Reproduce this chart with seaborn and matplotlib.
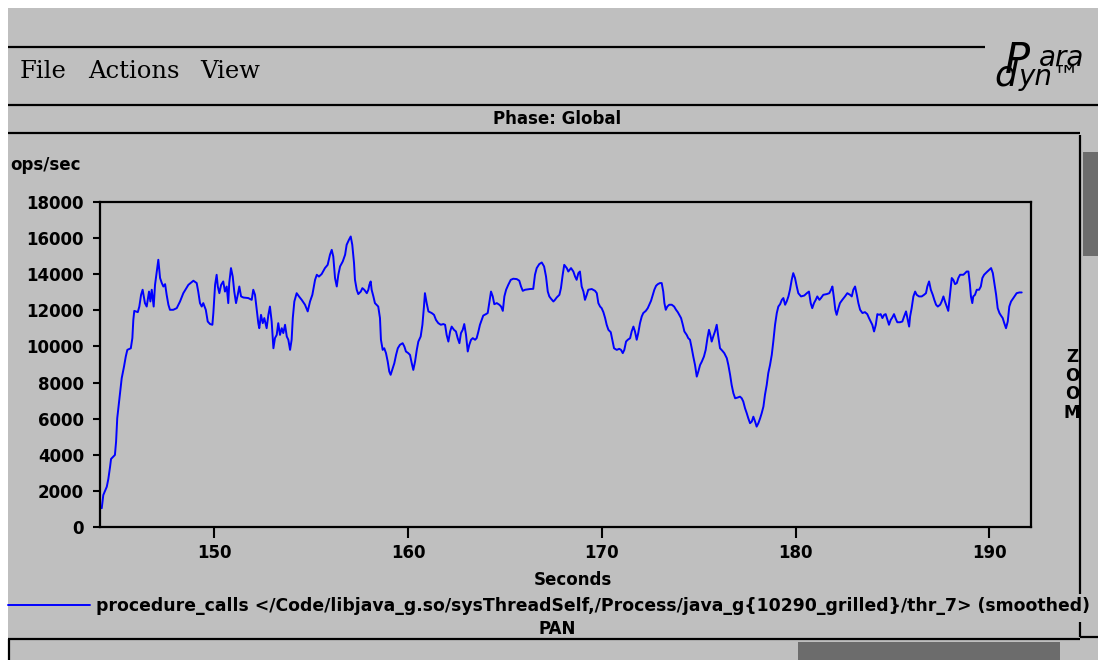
import matplotlib
matplotlib.use("Agg")
import matplotlib.pyplot as plt
from matplotlib.lines import Line2D
from matplotlib.patches import Rectangle
import seaborn as sns
import pandas as pd

# ---------------- data ----------------
time_s = [
    144.19, 144.27, 144.45, 144.53, 144.62, 144.67, 144.87, 144.93, 144.99, 145.10,
    145.22, 145.34, 145.43, 145.51, 145.69, 145.77, 145.82, 145.87, 146.05, 146.13,
    146.22, 146.30, 146.42, 146.51, 146.63, 146.70, 146.77, 146.87, 146.94, 147.03,
    147.11, 147.20, 147.29, 147.37, 147.46, 147.54, 147.63, 147.71, 147.88, 148.06,
    148.23, 148.40, 148.66, 148.92, 149.09, 149.17, 149.26, 149.35, 149.43, 149.56,
    149.66, 149.78, 149.90, 149.95, 150.04, 150.12, 150.18, 150.26, 150.35, 150.46,
    150.55, 150.64, 150.72, 150.77, 150.86, 150.95, 151.03, 151.12, 151.21, 151.29,
    151.38, 151.50, 151.75, 151.93, 152.01, 152.10, 152.19, 152.27, 152.32, 152.41,
    152.50, 152.58, 152.70, 152.79, 152.87, 152.96, 153.05, 153.13, 153.22, 153.30,
    153.39, 153.48, 153.56, 153.65, 153.74, 153.82, 153.91, 153.99, 154.05, 154.13,
    154.25, 154.37, 154.51, 154.68, 154.82, 154.94, 155.06, 155.20, 155.29, 155.40,
    155.54, 155.71, 155.85, 155.97, 156.06, 156.14, 156.23, 156.32, 156.40, 156.49,
    156.63, 156.75, 156.83, 156.95, 157.04, 157.12, 157.21, 157.26, 157.35, 157.43,
    157.56, 157.64, 157.74, 157.87, 157.95, 158.00, 158.07, 158.12, 158.21, 158.29,
    158.46, 158.55, 158.60, 158.69, 158.77, 158.86, 158.95, 159.03, 159.10, 159.21,
    159.29, 159.38, 159.47, 159.58, 159.72, 159.81, 159.89, 160.01, 160.10, 160.19,
    160.27, 160.36, 160.45, 160.53, 160.65, 160.74, 160.82, 160.87, 160.96, 161.05,
    161.22, 161.34, 161.44, 161.56, 161.69, 161.82, 161.91, 161.99, 162.08, 162.17,
    162.25, 162.37, 162.47, 162.56, 162.65, 162.73, 162.82, 162.90, 162.99, 163.08,
    163.16, 163.25, 163.34, 163.46, 163.54, 163.63, 163.71, 163.80, 163.88, 164.02,
    164.11, 164.19, 164.28, 164.37, 164.45, 164.58, 164.71, 164.80, 164.89, 164.97,
    165.06, 165.17, 165.30, 165.43, 165.61, 165.74, 165.83, 165.92, 166.04, 166.29,
    166.46, 166.55, 166.64, 166.77, 166.90, 167.02, 167.12, 167.21, 167.29, 167.38,
    167.50, 167.58, 167.67, 167.81, 167.89, 167.98, 168.06, 168.19, 168.27, 168.41,
    168.53, 168.62, 168.70, 168.79, 168.87, 168.96, 169.05, 169.13, 169.22, 169.30,
    169.48, 169.65, 169.74, 169.82, 169.91, 169.99, 170.08, 170.17, 170.25, 170.34,
    170.46, 170.54, 170.63, 170.77, 170.90, 170.99, 171.08, 171.16, 171.25, 171.34,
    171.46, 171.54, 171.63, 171.71, 171.80, 171.88, 171.97, 172.06, 172.14, 172.27,
    172.37, 172.45, 172.54, 172.63, 172.71, 172.80, 172.89, 173.00, 173.09, 173.17,
    173.23, 173.30, 173.38, 173.48, 173.61, 173.73, 173.83, 173.92, 174.00, 174.09,
    174.18, 174.26, 174.38, 174.46, 174.55, 174.64, 174.72, 174.81, 174.90, 174.98,
    175.07, 175.16, 175.27, 175.36, 175.45, 175.53, 175.60, 175.67, 175.75, 175.84,
    175.93, 176.01, 176.10, 176.22, 176.32, 176.45, 176.53, 176.62, 176.70, 176.79,
    176.88, 177.01, 177.13, 177.22, 177.30, 177.39, 177.48, 177.56, 177.65, 177.74,
    177.82, 177.91, 177.99, 178.08, 178.17, 178.25, 178.34, 178.42, 178.51, 178.59,
    178.68, 178.77, 178.85, 178.94, 179.03, 179.11, 179.20, 179.29, 179.37, 179.46,
    179.54, 179.63, 179.71, 179.80, 179.88, 179.97, 180.06, 180.14, 180.28, 180.45,
    180.58, 180.69, 180.78, 180.86, 180.95, 181.04, 181.12, 181.23, 181.31, 181.43,
    181.61, 181.74, 181.83, 181.90, 181.98, 182.05, 182.12, 182.21, 182.29, 182.41,
    182.55, 182.67, 182.81, 182.90, 182.98, 183.07, 183.16, 183.24, 183.33, 183.45,
    183.58, 183.70, 183.79, 183.88, 183.96, 184.05, 184.14, 184.22, 184.31, 184.39,
    184.48, 184.57, 184.65, 184.74, 184.82, 184.91, 184.99, 185.08, 185.17, 185.25,
    185.39, 185.51, 185.60, 185.70, 185.77, 185.86, 185.91, 185.99, 186.08, 186.17,
    186.25, 186.37, 186.51, 186.63, 186.73, 186.80, 186.89, 186.98, 187.08, 187.16,
    187.25, 187.34, 187.46, 187.54, 187.63, 187.71, 187.80, 187.88, 187.97, 188.06,
    188.14, 188.23, 188.32, 188.40, 188.49, 188.66, 188.75, 188.83, 188.92, 189.00,
    189.05, 189.12, 189.17, 189.26, 189.35, 189.47, 189.56, 189.64, 189.73, 189.87,
    190.00, 190.09, 190.18, 190.26, 190.35, 190.43, 190.52, 190.60, 190.69, 190.77,
    190.86, 190.95, 191.03, 191.12, 191.24, 191.33, 191.41, 191.55, 191.67,
]

ops_per_sec = [
    1040, 1770, 2230, 2660, 3340, 3770, 3990, 4730, 6030, 7080,
    8240, 8890, 9440, 9810, 9900, 10460, 11470, 11970, 11900, 12210,
    12860, 13140, 12400, 12210, 13040, 12490, 13140, 12210, 13410, 14150,
    14800, 13790, 13510, 13320, 13450, 12860, 12310, 12030, 12030, 12120,
    12490, 12950, 13410, 13640, 13510, 13040, 12400, 12210, 12400, 12030,
    11380, 11240, 11200, 11850, 13410, 13970, 13320, 12950, 13410, 13600,
    13040, 13320, 12400, 13510, 14340, 13870, 13040, 12400, 12860, 13320,
    12770, 12710, 12680, 12580, 13140, 12860, 12030, 11290, 11010, 11750,
    11290, 11570, 11010, 11750, 12210, 11380, 9900, 10460, 10640, 11290,
    10640, 11010, 10740, 11200, 10550, 10370, 9810, 10370, 11570, 12490,
    12950, 12770, 12580, 12310, 11940, 12490, 12860, 13690, 13970, 13870,
    14010, 14340, 14520, 15080, 15350, 14980, 13790, 13320, 13970, 14430,
    14710, 15080, 15630, 15910, 16090, 15630, 14620, 13690, 13140, 12900,
    13040, 13230, 13140, 12950, 13140, 13410, 13600, 13140, 12770, 12400,
    12210, 11570, 10370, 9810, 9900, 9630, 9160, 8610, 8430, 8800,
    9070, 9530, 9900, 10090, 10180, 9990, 9720, 9630, 9530, 9070,
    8700, 9160, 9810, 10270, 10550, 11200, 12210, 12950, 12400, 11940,
    11850, 11750, 11470, 11290, 11200, 11240, 11200, 10640, 10270, 10830,
    11100, 10920, 10830, 10460, 10180, 10740, 10920, 11240, 10640, 9720,
    10090, 10370, 10460, 10370, 10460, 10830, 11200, 11470, 11710, 11790,
    11850, 12400, 13040, 12770, 12340, 12400, 12310, 12210, 11970, 12770,
    13140, 13410, 13690, 13750, 13730, 13640, 13320, 13080, 13140, 13180,
    13190, 13970, 14340, 14560, 14650, 14430, 13870, 13040, 12770, 12640,
    12490, 12580, 12710, 12860, 13230, 13970, 14520, 14340, 14150, 14340,
    14150, 13870, 13690, 14060, 14150, 13320, 13040, 12580, 12860, 13140,
    13180, 13080, 12950, 12400, 12210, 12120, 11900, 11570, 11200, 10920,
    10790, 10370, 9900, 9810, 9870, 9810, 9630, 9810, 10270, 10370,
    10460, 10830, 11100, 10830, 10370, 10740, 11290, 11660, 11850, 11970,
    12120, 12310, 12530, 12860, 13140, 13360, 13450, 13510, 13510, 13040,
    12400, 12030, 12210, 12310, 12310, 12210, 12030, 11900, 11750, 11570,
    11200, 10830, 10640, 10460, 10370, 9900, 9440, 8970, 8330, 8610,
    8970, 9160, 9440, 9810, 10460, 10920, 10640, 10270, 10550, 10830,
    11200, 10550, 9900, 9760, 9630, 9350, 8970, 8430, 7870, 7410,
    7130, 7170, 7220, 7130, 6950, 6580, 6300, 6020, 5750, 5840,
    6110, 5840, 5560, 5750, 6020, 6300, 6670, 7320, 7870, 8520,
    8970, 9530, 10270, 11200, 11850, 12210, 12340, 12580, 12680, 12310,
    12490, 12770, 13140, 13690, 14060, 13790, 13320, 12950, 12770, 12820,
    12950, 13040, 12400, 12120, 12400, 12580, 12770, 12580, 12680, 12860,
    12900, 12950, 13140, 13320, 12680, 12030, 11750, 12120, 12400, 12580,
    12770, 12950, 12860, 12770, 13140, 13320, 12860, 12400, 12030, 11850,
    11900, 11790, 11570, 11380, 11200, 10830, 11200, 11790, 11750, 11790,
    11570, 11750, 11790, 11470, 11200, 11470, 11600, 11790, 11530, 11340,
    11340, 11380, 11660, 11940, 11570, 11100, 11660, 12120, 12770, 13040,
    12860, 12770, 12770, 12860, 12950, 13320, 13600, 13140, 12860, 12580,
    12310, 12210, 12310, 12490, 12770, 12490, 12210, 11970, 12860, 13790,
    13690, 13450, 13510, 13790, 13970, 13970, 14060, 14150, 14150, 13410,
    12770, 12400, 12770, 12860, 13140, 13140, 13320, 13790, 13970, 14120,
    14250, 14340, 14060, 13510, 12860, 12120, 11850, 11710, 11570, 11290,
    11010, 11380, 12210, 12490, 12680, 12820, 12950, 12990, 12990,
]

y_ticks = [0, 2000, 4000, 6000, 8000, 10000, 12000, 14000, 16000, 18000]
x_ticks = [150, 160, 170, 180, 190]
x_range = (144.10, 192.15)
y_range = (0, 18000)

series_label = ("procedure_calls </Code/libjava_g.so/sysThreadSelf,"
                "/Process/java_g{10290_grilled}/thr_7> (smoothed)")
menu_items = ["File", "Actions", "View"]

# ---------------- figure ----------------
W, H = 1098, 660
BG = "#bfbfbf"
sns.set_theme(style="white")
plt.rcParams["font.family"] = ["DejaVu Sans"]
plt.rcParams["text.color"] = "black"
plt.rcParams["axes.labelcolor"] = "black"
plt.rcParams["xtick.color"] = "black"
plt.rcParams["ytick.color"] = "black"

fig = plt.figure(figsize=(W / 100, H / 100), dpi=100)
fig.patch.set_facecolor("white")


def fx(x):
    return x / W


def fy(y):
    return 1 - y / H


fig.add_artist(Rectangle((fx(8), 0), 1 - fx(8), fy(8), transform=fig.transFigure,
                         facecolor=BG, edgecolor="none", zorder=-10))


def hline(x0, x1, y, lw=1.6, color="black"):
    fig.add_artist(Line2D([fx(x0), fx(x1)], [fy(y), fy(y)], transform=fig.transFigure,
                          color=color, lw=lw, solid_capstyle="butt"))


def vline(x, y0, y1, lw=1.6, color="black"):
    fig.add_artist(Line2D([fx(x), fx(x)], [fy(y0), fy(y1)], transform=fig.transFigure,
                          color=color, lw=lw, solid_capstyle="butt"))


# menu bar separators
hline(8, 985, 47)
hline(8, 1098, 105)
hline(8, 1080, 133)
# right zoom scrollbar (border interrupted by the legend text)
vline(1080, 135, 594)
vline(1080, 622, 637)
hline(1080, 1098, 636.5)
fig.add_artist(Rectangle((fx(1083), fy(256)), fx(1098) - fx(1083), fy(152) - fy(256),
                         transform=fig.transFigure, facecolor="#6c6c6c", edgecolor="none"))
# bottom pan scrollbar
hline(8, 1080, 639)
vline(9, 639, 660)
fig.add_artist(Rectangle((fx(798), 0), fx(1060) - fx(798), fy(642),
                         transform=fig.transFigure, facecolor="#6c6c6c", edgecolor="none"))

# menu text
menu_x = [20, 88, 200]
for label, x in zip(menu_items, menu_x):
    fig.text(fx(x), fy(72), label, family="DejaVu Serif", fontsize=17.5,
             va="center", ha="left", color="black")

# logo
fig.text(fx(1005), fy(61), "P", family="DejaVu Sans", style="italic", fontsize=30,
         va="center", ha="left")
fig.text(fx(1039), fy(58), "ara", family="DejaVu Sans", style="italic", fontsize=20,
         va="center", ha="left")
fig.text(fx(994), fy(75), "d", family="DejaVu Sans", style="italic", fontsize=26,
         va="center", ha="left")
fig.text(fx(1019), fy(77), "yn™", family="DejaVu Sans", style="italic", fontsize=20,
         va="center", ha="left")

bold = dict(fontsize=12, fontweight="bold", color="black")
fig.text(fx(557), fy(119), "Phase: Global", ha="center", va="center", **bold)
fig.text(fx(10), fy(165), "ops/sec", ha="left", va="center", **bold)
fig.text(fx(573), fy(580), "Seconds", ha="center", va="center", **bold)
fig.text(fx(557), fy(629), "PAN", ha="center", va="center", **bold)
fig.text(fx(1072), fy(385), "Z\nO\nO\nM", ha="center", va="center",
         linespacing=1.05, **bold)

# ---------------- plot ----------------
ax = fig.add_axes([fx(100), fy(527), fx(1031) - fx(100), fy(202) - fy(527)])
ax.set_facecolor(BG)
df = pd.DataFrame({"Seconds": time_s, "ops/sec": ops_per_sec})
sns.lineplot(data=df, x="Seconds", y="ops/sec", ax=ax, color="blue", linewidth=1.4,
             estimator=None, sort=False, label=series_label)
ax.set_xlim(*x_range)
ax.set_ylim(*y_range)
ax.set_xticks(x_ticks)
ax.set_yticks(y_ticks)
ax.set_xlabel("")
ax.set_ylabel("")
for s in ax.spines.values():
    s.set_visible(True)
    s.set_color("black")
    s.set_linewidth(1.6)
ax.tick_params(axis="y", direction="out", length=5, width=1.5, pad=6.5,
               labelsize=12, colors="black")
ax.tick_params(axis="x", direction="out", length=8, width=1.5, pad=4,
               labelsize=12, colors="black")
ax.tick_params(left=True, bottom=True)
for lab in ax.get_xticklabels() + ax.get_yticklabels():
    lab.set_fontweight("bold")

handles, labels = ax.get_legend_handles_labels()
ax.get_legend().remove()
leg = fig.legend(handles, labels, loc="center left", bbox_to_anchor=(fx(8), fy(606)),
                 frameon=False, borderpad=0, borderaxespad=0, handlelength=4.75,
                 handletextpad=0.35, prop={"size": 12.4, "weight": "bold"})
for t in leg.get_texts():
    t.set_color("black")

fig.savefig("out.png", dpi=100, facecolor=fig.get_facecolor())
